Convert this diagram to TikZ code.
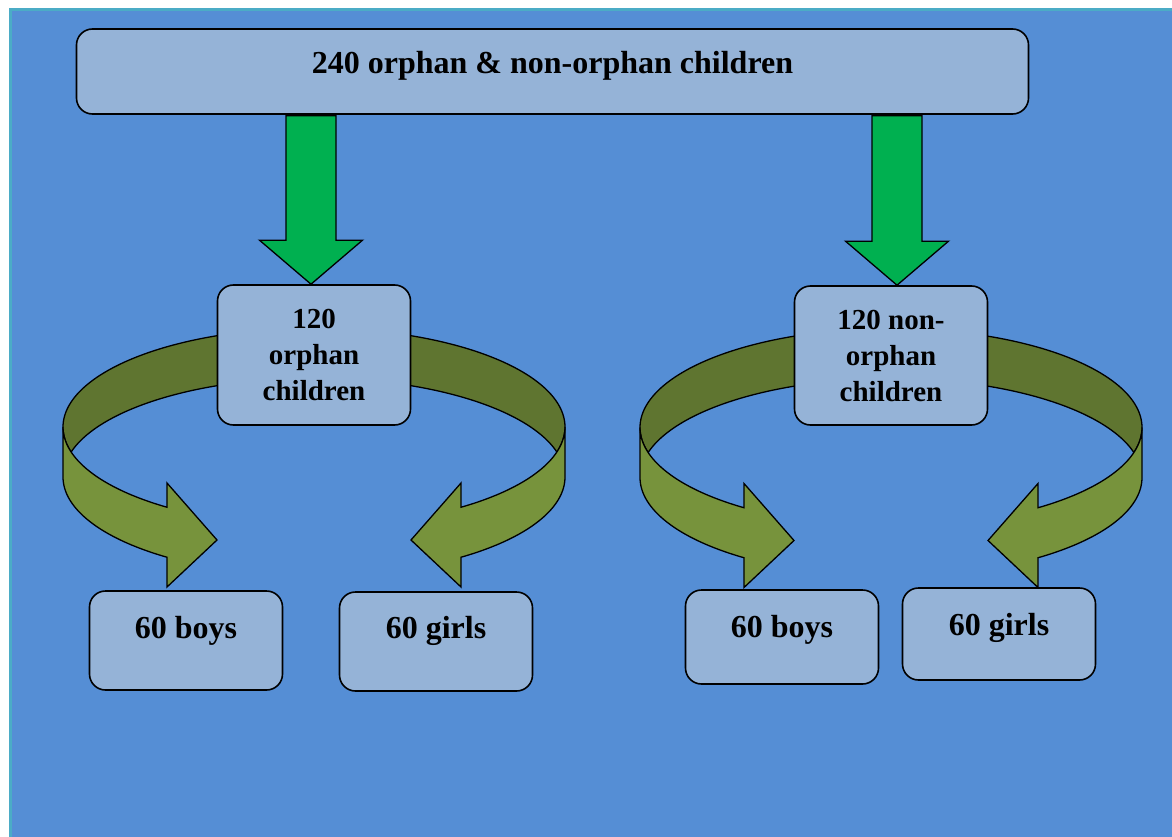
\documentclass[tikz,border=0pt]{standalone}
\usepackage{fontspec}
\setmainfont{Liberation Serif}
\usepackage{xcolor}
\usepackage{tikz}
\usetikzlibrary{calc,positioning}

\definecolor{pageblue}{HTML}{558ED5}
\definecolor{frameteal}{HTML}{4BACC6}
\definecolor{boxblue}{HTML}{95B3D7}
\definecolor{arrowgreen}{HTML}{00B050}
\definecolor{olivedark}{HTML}{5F7530}
\definecolor{olivelight}{HTML}{77933C}

\pgfdeclarelayer{back}
\pgfsetlayers{back,main}

\tikzset{
  box/.style={draw, line width=1.6pt, rounded corners=16pt, fill=boxblue,
    inner sep=0pt, font=\bfseries\fontsize{32}{36}\selectfont},
  midbox/.style={box, align=center, minimum width=193pt,
    font=\bfseries\fontsize{29}{36}\selectfont},
  leafbox/.style={box, minimum width=193pt},
  downarrow/.style={draw, line width=1.3pt, fill=arrowgreen},
  backband/.style={draw, line width=1.3pt, fill=olivedark},
  frontband/.style={draw, line width=1.3pt, fill=olivelight}
}

% green block arrow from the bottom of #1 down to coordinate #2
\newcommand\blockdown[2]{%
  \draw[downarrow] ($(#2 |- #1.south)+(-25,1)$) -- ($(#2 |- #1.south)+(25,1)$)
    -- ($(#2)+(25,-44)$) -- ($(#2)+(51.5,-44)$) -- (#2)
    -- ($(#2)+(-51.5,-44)$) -- ($(#2)+(-25,-44)$) -- cycle;
}

% curved ribbon arrow round node #1, #2 = 1 (left side) or -1 (right side)
\newcommand\ribbon[2]{%
  \begin{scope}[shift={(#1.center)}, xscale=#2]
    \draw[backband] plot[domain=-108:-194.63, samples=60]
        ({251*cos(\x)}, {72+99*sin(\x)})
      -- plot[domain=-165.37:-108, samples=60]
        ({251*cos(\x)}, {122+99*sin(\x)}) -- cycle;
    \draw[frontband] plot[domain=180:125.86, samples=50]
        ({251*cos(\x)}, {72+99*sin(\x)})
      -- (-147,128) -- (-97,185) -- (-147,232)
      -- plot[domain=125.86:180, samples=50]
        ({251*cos(\x)}, {122+99*sin(\x)}) -- cycle;
  \end{scope}
}

\begin{document}
\begin{tikzpicture}[x=1pt, y=-1pt]
  \useasboundingbox (0,0) rectangle (1172,837);

  % boxes
  \node[box, minimum width=952pt, text height=45pt, text depth=40pt, anchor=base]
    (all) at (552.5,74) {240 orphan \& non-orphan children};

  \node[midbox, text height=115pt, text depth=25pt, anchor=base]
    (orph) at (314,400) {120\\orphan\\children};
  \node[midbox, text height=115pt, text depth=24pt, anchor=base]
    (nonorph) at (891,401) {120 non-\\orphan\\children};

  \node[leafbox, text height=47pt, text depth=52pt, anchor=base]
    (boysA) at (186,638) {60 boys};
  \node[leafbox, text height=46pt, text depth=53pt, anchor=base]
    (girlsA) at (436,638) {60 girls};
  \node[leafbox, text height=47pt, text depth=47pt, anchor=base]
    (boysB) at (782,637) {60 boys};
  \node[leafbox, text height=47pt, text depth=45pt, anchor=base]
    (girlsB) at (999,635) {60 girls};

  % page and ribbons behind the boxes
  \begin{pgfonlayer}{back}
    \draw[frameteal, line width=3pt, fill=pageblue] (10.5,9.5) rectangle (1180,845);
    \ribbon{orph}{1}
    \ribbon{orph}{-1}
    \ribbon{nonorph}{1}
    \ribbon{nonorph}{-1}
  \end{pgfonlayer}

  % green arrows
  \coordinate (tipA) at ($(orph.north)+(-3,0)$);
  \coordinate (tipB) at ($(nonorph.north)+(6,0)$);
  \blockdown{all}{tipA}
  \blockdown{all}{tipB}
\end{tikzpicture}
\end{document}
